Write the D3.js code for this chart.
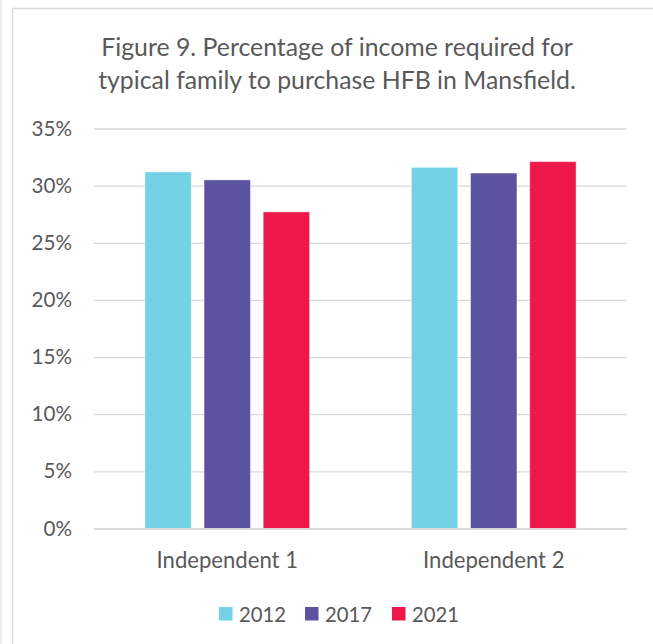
<!DOCTYPE html>
<html>
<head>
<meta charset="utf-8">
<script src="https://cdn.jsdelivr.net/npm/d3@7"></script>
<style>
  body { margin: 0; background: #fff; }
  text { font-family: Lato, "Open Sans", sans-serif; fill: #595959; }
</style>
</head>
<body>
<div id="chart"></div>
<script>
// chart data
const categories = ["Independent 1", "Independent 2"];
const years = ["2012", "2017", "2021"];
const values2012 = [0.312, 0.316];
const values2017 = [0.305, 0.311];
const values2021 = [0.277, 0.321];
const yTicks = [0, 0.05, 0.10, 0.15, 0.20, 0.25, 0.30, 0.35];
const titleLines = ["Figure 9. Percentage of income required for",
                    "typical family to purchase HFB in Mansfield."];

const colors = ["#74D2E6", "#5B52A0", "#EE174A"];
const series = [values2012, values2017, values2021];

const width = 653, height = 644;
const svg = d3.select("#chart").append("svg")
  .attr("width", width).attr("height", height);

//faint page edge on the left
svg.append("line")
  .attr("x1", 1).attr("x2", 1).attr("y1", 0).attr("y2", height)
  .attr("stroke", "#E6E6E6").attr("stroke-width", 1.5);

//outer chart frame
svg.append("rect")
  .attr("x", 12.5).attr("y", 8.5)
  .attr("width", 660).attr("height", 660)
  .attr("fill", "#fff").attr("stroke", "#D9D9D9").attr("stroke-width", 1.5);

//one font size for a whole selection, so that its widest text hits the target width
function fitText(sel, target) {
  let maxW = 0;
  sel.each(function () { maxW = Math.max(maxW, this.getComputedTextLength()); });
  const fs = parseFloat(sel.style("font-size"));
  sel.style("font-size", (fs * target / maxW) + "px");
}

//scales
const y = d3.scaleLinear().domain([0, 0.35]).range([528.5, 128.5]);
const x0 = d3.scaleBand().domain(categories).range([94, 627])
  .paddingInner(0.382).paddingOuter(0.191);
const x1 = d3.scaleBand().domain(years).range([0, x0.bandwidth()])
  .paddingInner(0.216);

//title
svg.append("g").selectAll("text")
  .data(titleLines).join("text")
  .attr("x", 337).attr("y", (d, i) => 56 + i * 33)
  .attr("text-anchor", "middle")
  .style("font-size", "22px")
  .text(d => d)
  .call(fitText, 478);

//gridlines + y axis labels
const yAxis = d3.axisLeft(y).tickValues(yTicks)
  .tickFormat(d3.format(".0%"))
  .tickSize(-(627 - 94)).tickPadding(22);
const gy = svg.append("g").attr("transform", "translate(94,0)").call(yAxis);
gy.select(".domain").remove();
gy.selectAll(".tick line").attr("stroke", "#D9D9D9").attr("stroke-width", 1.3);
gy.selectAll(".tick text").style("font-size", "18px").attr("fill", "#595959")
  .call(fitText, 40.5);

//bars
const groups = svg.append("g").selectAll("g")
  .data(categories).join("g")
  .attr("transform", d => `translate(${x0(d)},0)`);

groups.selectAll("rect")
  .data((d, i) => years.map((yr, j) => ({ yr, v: series[j][i], c: colors[j] })))
  .join("rect")
  .attr("x", d => x1(d.yr))
  .attr("y", d => y(d.v))
  .attr("width", x1.bandwidth())
  .attr("height", d => y(0) - y(d.v))
  .attr("fill", d => d.c)
  .attr("stroke", "#fff").attr("stroke-opacity", 0.4).attr("stroke-width", 1);

//x axis
const xAxis = d3.axisBottom(x0).tickSize(0).tickPadding(24);
const gx = svg.append("g").attr("transform", `translate(0,${y(0)})`).call(xAxis);
gx.select(".domain").attr("stroke", "#D9D9D9").attr("stroke-width", 1.3);
gx.selectAll(".tick text").style("font-size", "19px").attr("fill", "#595959")
  .call(fitText, 141.5);

//legend
const legendX = [219, 305, 392];
const legend = svg.append("g").selectAll("g")
  .data(years).join("g")
  .attr("transform", (d, i) => `translate(${legendX[i]},607)`);
legend.append("rect")
  .attr("width", 13.5).attr("height", 13.5)
  .attr("fill", (d, i) => colors[i]);
legend.append("text")
  .attr("x", 20).attr("y", 14.5)
  .style("font-size", "20px")
  .text(d => d)
  .call(fitText, 47);
</script>
</body>
</html>
